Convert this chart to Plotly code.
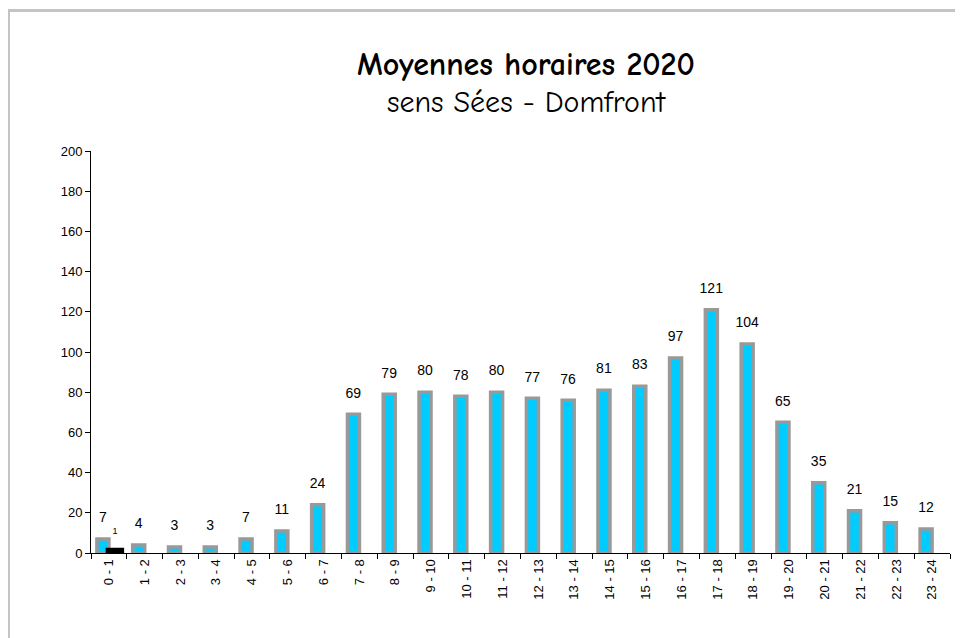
import plotly.graph_objects as go

categories = [f"{h} - {h+1}" for h in range(24)]
moyennes = [7, 4, 3, 3, 7, 11, 24, 69, 79, 80, 78, 80, 77, 76, 81, 83, 97, 121, 104, 65, 35, 21, 15, 12]
serie2 = [1] + [None] * 23

def label(v, size):
    return f"<span style='font-size:{size}px'>{v}</span><br> "

fig = go.Figure()
fig.add_trace(go.Bar(
    x=categories, y=moyennes,
    marker=dict(color="#00CCFF", line=dict(color="#999999", width=3.5)),
    text=[label(v, 14) for v in moyennes], textposition="outside",
    textfont=dict(family="Liberation Sans, Arial", size=9, color="black"),
    constraintext="none", cliponaxis=False, showlegend=False,
))
fig.add_trace(go.Bar(
    x=categories, y=serie2,
    marker=dict(color="black", line=dict(color="black", width=6.5)),
    text=[(f"{v}<br> " if v is not None else "") for v in serie2], textposition="outside",
    textfont=dict(family="Liberation Sans, Arial", size=9, color="black"),
    constraintext="none", cliponaxis=False, showlegend=False,
))

W, H = 963, 638
OFF = 8  # page body margin
# desired plot area in viewport pixels: left 91, right 950, top 151, bottom 553
ml = 91 - OFF
mt = 151 - OFF
mb = H - (553 - OFF)
mr = W - (950 - OFF)
pw, ph = W - ml - mr, H - mt - mb

def px2x(p):
    return (p - OFF - ml) / pw

def py2y(p):
    return (H - mb - (p - OFF)) / ph

fig.update_layout(
    width=W, height=H,
    margin=dict(l=ml, r=mr, t=mt, b=mb, autoexpand=False),
    paper_bgcolor="white", plot_bgcolor="white",
    barmode="group", bargap=0.33, bargroupgap=0,
    font=dict(family="Liberation Sans, Arial", color="black"),
    xaxis=dict(
        type="category", tickangle=-90, ticks="outside", tickson="boundaries",
        ticklen=5, tickcolor="black", showline=True, linecolor="black", linewidth=1,
        showgrid=False, tickfont=dict(size=13), zeroline=False,
    ),
    yaxis=dict(
        range=[0, 200], dtick=20, ticks="outside", ticklen=5, tickcolor="black",
        showline=True, linecolor="black", linewidth=1, showgrid=False,
        zeroline=False, tickfont=dict(size=13),
    ),
    annotations=[
        dict(text="<b>Moyennes horaires 2020</b>", xref="paper", yref="paper",
             x=px2x(526), y=py2y(65), showarrow=False, xanchor="center", yanchor="middle",
             font=dict(family="Comic Sans MS, Comic Neue, Open Sans", size=32, color="black")),
        dict(text="sens Sées - Domfront", xref="paper", yref="paper",
             x=px2x(526), y=py2y(102), showarrow=False, xanchor="center", yanchor="middle",
             font=dict(family="Comic Sans MS, Comic Neue, Open Sans", size=30, color="black")),
    ],
    shapes=[
        dict(type="line", xref="paper", yref="paper", x0=px2x(8), x1=px2x(975),
             y0=py2y(10.5), y1=py2y(10.5), line=dict(color="#C4C4C4", width=3)),
        dict(type="line", xref="paper", yref="paper", x0=px2x(8), x1=px2x(8),
             y0=py2y(10.5), y1=py2y(650), line=dict(color="#C4C4C4", width=4)),
    ],
)

fig.write_html("out.html")
